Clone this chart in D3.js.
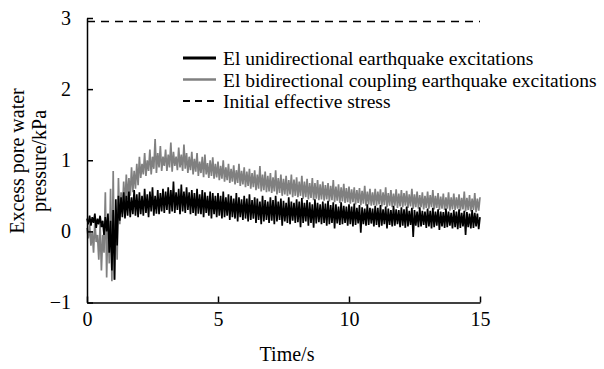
<!DOCTYPE html>
<html>
<head>
<meta charset="utf-8">
<script src="https://cdn.jsdelivr.net/npm/d3@7"></script>
<style>
  body { margin: 0; background: #fff; }
  text { font-family: 'Liberation Serif', 'Times New Roman', serif; }
</style>
</head>
<body>
<script>
var w = 604;
var h = 369;

// sampling interval of the records, seconds
var dt = 0.05;

var xTicks = [0, 5, 10, 15];
var yTicks = [-1, 0, 1, 2, 3];
var initialStress = 2.95;

var seriesNames = [
   'El unidirectional earthquake excitations',
   'El bidirectional coupling earthquake excitations',
   'Initial effective stress'
];

// excess pore water pressure (kPa), bidirectional coupling excitation
var bidirectional = [
   0.05, -0.10, 0.10, -0.20, 0.00, -0.30, 0.15, -0.15, -0.05, -0.40, 0.10, -0.55, -0.05, -0.30, 0.55, -0.65, 0.20, -0.45, 0.60, -0.70,
   0.85, -0.68, 0.30, -0.40, 0.75, 0.10, 0.55, 0.25, 0.70, 0.35, 0.80, 0.45, 0.75, 0.50, 0.90, 0.55, 0.85, 0.60, 0.95, 0.65,
   1.05, 0.75, 0.95, 0.80, 1.10, 0.78, 1.00, 0.85, 1.15, 0.80, 1.05, 0.88, 1.30, 0.82, 1.10, 0.90, 1.20, 0.85, 1.05, 0.92,
   1.15, 0.85, 1.08, 0.90, 1.25, 0.84, 1.12, 0.92, 1.05, 0.86, 1.18, 0.90, 1.08, 0.85, 1.22, 0.88, 1.10, 0.82, 1.05, 0.86,
   1.12, 0.80, 1.02, 0.84, 1.10, 0.78, 0.98, 0.82, 1.05, 0.76, 1.08, 0.80, 0.96, 0.75, 1.00, 0.78, 1.04, 0.74, 0.95, 0.76,
   0.98, 0.72, 0.92, 0.74, 1.00, 0.70, 0.90, 0.72, 0.95, 0.68, 0.88, 0.70, 0.93, 0.66, 0.86, 0.68, 0.95, 0.64, 0.85, 0.66,
   0.90, 0.62, 0.84, 0.64, 0.88, 0.60, 0.82, 0.62, 0.86, 0.58, 0.80, 0.60, 0.92, 0.56, 0.80, 0.58, 0.84, 0.55, 0.78, 0.56,
   0.82, 0.54, 0.76, 0.56, 0.86, 0.52, 0.75, 0.54, 0.80, 0.50, 0.74, 0.52, 0.78, 0.50, 0.72, 0.52, 0.80, 0.48, 0.73, 0.50,
   0.76, 0.48, 0.70, 0.50, 0.78, 0.46, 0.70, 0.48, 0.74, 0.45, 0.68, 0.47, 0.75, 0.44, 0.68, 0.46, 0.72, 0.44, 0.66, 0.45,
   0.70, 0.43, 0.65, 0.45, 0.68, 0.42, 0.64, 0.44, 0.72, 0.41, 0.63, 0.43, 0.66, 0.40, 0.62, 0.42, 0.67, 0.40, 0.61, 0.41,
   0.63, 0.39, 0.59, 0.41, 0.62, 0.38, 0.58, 0.40, 0.61, 0.37, 0.57, 0.39, 0.64, 0.36, 0.56, 0.38, 0.60, 0.36, 0.55, 0.37,
   0.60, 0.36, 0.56, 0.38, 0.59, 0.35, 0.55, 0.37, 0.62, 0.34, 0.54, 0.36, 0.58, 0.34, 0.53, 0.36, 0.59, 0.33, 0.53, 0.35,
   0.58, 0.34, 0.54, 0.36, 0.57, 0.33, 0.52, 0.35, 0.60, 0.32, 0.52, 0.34, 0.56, 0.32, 0.51, 0.34, 0.55, 0.31, 0.50, 0.33,
   0.56, 0.32, 0.51, 0.34, 0.58, 0.31, 0.50, 0.33, 0.54, 0.30, 0.49, 0.32, 0.53, 0.30, 0.48, 0.32, 0.55, 0.29, 0.48, 0.31,
   0.53, 0.30, 0.48, 0.32, 0.52, 0.29, 0.47, 0.31, 0.56, 0.28, 0.47, 0.30, 0.51, 0.28, 0.46, 0.30, 0.54, 0.27, 0.46, 0.29,
   0.48
];

// excess pore water pressure (kPa), unidirectional excitation
var unidirectional = [
   0.18, 0.10, 0.22, 0.08, 0.20, 0.12, 0.25, 0.05, 0.18, 0.10, 0.22, 0.06, 0.15, -0.05, 0.20, 0.00, 0.25, -0.30, 0.15, -0.55,
   0.30, -0.68, 0.45, -0.20, 0.50, 0.15, 0.48, 0.20, 0.55, 0.18, 0.50, 0.22, 0.56, 0.20, 0.48, 0.24, 0.58, 0.22, 0.52, 0.20,
   0.55, 0.24, 0.50, 0.22, 0.60, 0.26, 0.52, 0.20, 0.56, 0.28, 0.62, 0.22, 0.50, 0.25, 0.58, 0.24, 0.54, 0.28, 0.60, 0.26,
   0.56, 0.30, 0.62, 0.25, 0.58, 0.28, 0.70, 0.26, 0.55, 0.30, 0.60, 0.24, 0.66, 0.28, 0.56, 0.26, 0.62, 0.30, 0.55, 0.24,
   0.58, 0.26, 0.54, 0.22, 0.60, 0.25, 0.52, 0.24, 0.58, 0.20, 0.55, 0.26, 0.50, 0.22, 0.56, 0.18, 0.54, 0.24, 0.50, 0.20,
   0.54, 0.22, 0.50, 0.18, 0.56, 0.20, 0.48, 0.22, 0.52, 0.16, 0.50, 0.20, 0.46, 0.18, 0.54, 0.14, 0.48, 0.20, 0.45, 0.16,
   0.50, 0.18, 0.46, 0.14, 0.52, 0.16, 0.44, 0.18, 0.48, 0.12, 0.46, 0.16, 0.42, 0.10, 0.50, 0.14, 0.44, 0.16, 0.42, 0.12,
   0.48, 0.15, 0.44, 0.10, 0.50, 0.14, 0.42, 0.16, 0.46, 0.08, 0.43, 0.14, 0.40, 0.12, 0.48, 0.10, 0.42, 0.15, 0.40, 0.12,
   0.45, 0.13, 0.42, 0.06, 0.47, 0.12, 0.40, 0.14, 0.44, 0.08, 0.41, 0.12, 0.38, 0.05, 0.45, 0.11, 0.40, 0.13, 0.38, 0.10,
   0.42, 0.12, 0.39, 0.08, 0.43, 0.10, 0.37, 0.12, 0.41, 0.04, 0.38, 0.11, 0.35, 0.09, 0.41, 0.10, 0.36, 0.12, 0.35, 0.08,
   0.38, 0.10, 0.35, 0.07, 0.39, 0.09, 0.33, 0.11, 0.37, -0.02, 0.34, 0.10, 0.32, 0.08, 0.38, 0.09, 0.33, 0.11, 0.32, 0.07,
   0.36, 0.09, 0.33, 0.06, 0.37, 0.08, 0.31, 0.10, 0.35, 0.04, 0.32, 0.09, 0.30, 0.07, 0.36, 0.08, 0.31, 0.10, 0.30, 0.06,
   0.34, 0.08, 0.31, 0.05, 0.35, 0.07, 0.29, 0.09, 0.33, -0.08, 0.30, 0.08, 0.28, 0.06, 0.34, 0.07, 0.29, 0.09, 0.28, 0.05,
   0.32, 0.07, 0.29, 0.04, 0.33, 0.06, 0.28, 0.08, 0.31, 0.02, 0.28, 0.07, 0.27, 0.05, 0.32, 0.06, 0.28, 0.08, 0.26, 0.04,
   0.30, 0.06, 0.28, 0.03, 0.31, 0.05, 0.26, 0.07, 0.29, -0.05, 0.27, 0.06, 0.25, 0.04, 0.30, 0.05, 0.26, 0.07, 0.25, 0.03,
   0.20
];

var margin = { left: 87, right: 124, top: 18, bottom: 66.5 };
var fontSize = '20px';

var svg = d3.select('body')
   .append('svg')
   .attr('width', w)
   .attr('height', h);

var x = d3.scaleLinear()
   .domain([0, 15])
   .range([margin.left, w - margin.right]);

var y = d3.scaleLinear()
   .domain([-1, 3])
   .range([h - margin.bottom, margin.top]);

var line = d3.line()
   .x(function(d, i) { return x(i * dt); })
   .y(function(d) { return y(d); });

// records: grey under black
svg.append('path')
   .datum(bidirectional)
   .attr('d', line)
   .attr('fill', 'none')
   .attr('stroke', '#808080')
   .attr('stroke-width', 1.7)
   .attr('stroke-linejoin', 'miter');

svg.append('path')
   .datum(unidirectional)
   .attr('d', line)
   .attr('fill', 'none')
   .attr('stroke', '#000')
   .attr('stroke-width', 1.7)
   .attr('stroke-linejoin', 'miter');

// initial effective stress level
svg.append('line')
   .attr('x1', x(0))
   .attr('x2', x(15))
   .attr('y1', y(initialStress))
   .attr('y2', y(initialStress))
   .attr('stroke', '#000')
   .attr('stroke-width', 1.5)
   .attr('stroke-dasharray', '8,6');

// axes with inward ticks
var xAxis = svg.append('g')
   .attr('transform', 'translate(0,' + y(-1) + ')')
   .call(d3.axisBottom(x).tickValues(xTicks).tickFormat(d3.format('d'))
      .tickSizeInner(-6).tickSizeOuter(0).tickPadding(9));

var yAxis = svg.append('g')
   .attr('transform', 'translate(' + x(0) + ',0)')
   .call(d3.axisLeft(y).tickValues(yTicks).tickFormat(d3.format('d'))
      .tickSizeInner(-6).tickSizeOuter(0).tickPadding(16));

[xAxis, yAxis].forEach(function(g) {
   g.selectAll('path, line').attr('stroke', '#000').attr('stroke-width', 1.5);
   g.selectAll('text')
      .attr('fill', '#000')
      .style('font-size', fontSize)
      .style('font-family', "'Liberation Serif', 'Times New Roman', serif");
});

// axis titles
svg.append('text')
   .attr('x', 287)
   .attr('y', 361)
   .attr('text-anchor', 'middle')
   .attr('font-size', fontSize)
   .text('Time/s');

var yTitle = svg.append('text')
   .attr('transform', 'translate(0,161) rotate(-90)')
   .attr('text-anchor', 'middle')
   .attr('font-size', fontSize);
yTitle.append('tspan').attr('x', 0).attr('y', 23.5).text('Excess pore water');
yTitle.append('tspan').attr('x', 0).attr('y', 46).text('pressure/kPa');

// legend
var legendStyles = [
   { stroke: '#000', width: 3, dash: null },
   { stroke: '#808080', width: 2.5, dash: null },
   { stroke: '#000', width: 2, dash: '7,5' }
];

var legend = svg.selectAll('.legend')
   .data(seriesNames)
   .enter()
   .append('g')
   .attr('class', 'legend')
   .attr('transform', function(d, i) {
      return 'translate(183,' + (58 + i * 21.5) + ')';
   });

legend.append('line')
   .attr('x1', 0)
   .attr('x2', 33)
   .attr('stroke', function(d, i) { return legendStyles[i].stroke; })
   .attr('stroke-width', function(d, i) { return legendStyles[i].width; })
   .attr('stroke-dasharray', function(d, i) { return legendStyles[i].dash; });

legend.append('text')
   .attr('x', 40)
   .attr('y', 7)
   .attr('font-size', '19.5px')
   .text(function(d) { return d; });
</script>
</body>
</html>
